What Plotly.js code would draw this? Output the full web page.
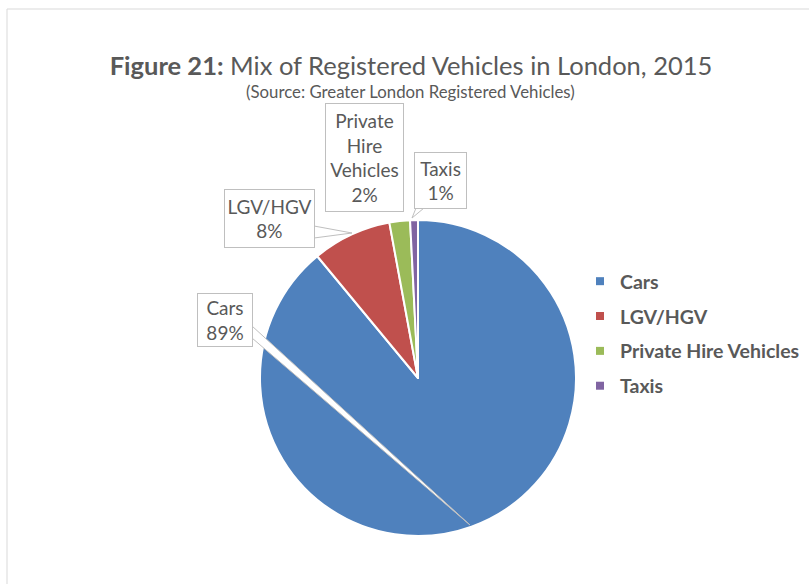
<!DOCTYPE html>
<html>
<head>
<meta charset="utf-8">
<script src="https://cdn.plot.ly/plotly-3.0.1.min.js"></script>
<style>html,body{margin:0;padding:0;background:#fff;}#chart{width:809px;height:584px;}</style>
</head>
<body>
<div id="chart"></div>
<script>
// Data
var categories = ["Cars", "LGV/HGV", "Private Hire Vehicles", "Taxis"];
var shares = [89.0, 8.1, 2.1, 0.8];
var calloutLabels = ["Cars", "LGV/HGV", "Private<br>Hire<br>Vehicles", "Taxis"];
var colors = ["#4F81BD", "#C0504D", "#9BBB59", "#8064A2"];

var W = 809, H = 584;
function px(x){ return x / W; }
function py(y){ return 1 - y / H; }

var total = shares.reduce(function(a,b){return a+b;},0);
var textColor = "#595959";
var fontFam = "Lato, 'Open Sans', sans-serif";

var cx = 418, cy = 378, r = 158;

var traces = [{
  type: "pie",
  labels: categories,
  values: shares,
  sort: false,
  direction: "clockwise",
  rotation: 0,
  textinfo: "none",
  hoverinfo: "label+percent",
  showlegend: false,
  marker: {colors: colors, line: {color: "#ffffff", width: 2}},
  domain: {x: [px(cx - r), px(cx + r)], y: [py(cy + r), py(cy - r)]}
}];

// legend entries, drawn by the library's legend
categories.forEach(function(c, i){
  traces.push({
    type: "scatter", mode: "markers", x: [null], y: [null],
    name: c, legendgroup: "g" + i,
    marker: {symbol: "square", size: 8, color: colors[i]},
    hoverinfo: "skip"
  });
});

// callout boxes
var boxes = [
  {x: 225, y: 320, w: 56, h: 54},
  {x: 269.5, y: 218.5, w: 91, h: 59},
  {x: 364.5, y: 157.5, w: 79, h: 109},
  {x: 440.5, y: 180.5, w: 53, h: 57}
];
var annotations = boxes.map(function(b, i){
  return {
    xref: "paper", yref: "paper", x: px(b.x), y: py(b.y),
    xanchor: "center", yanchor: "middle", showarrow: false,
    text: calloutLabels[i] + "<br>" + Math.round(shares[i] / total * 100) + "%",
    font: {family: fontFam, size: 19, color: textColor},
    bgcolor: "#ffffff", bordercolor: "#BFBFBF", borderwidth: 1, borderpad: 1,
    width: b.w - 4, height: b.h - 4, align: "center", valign: "middle"
  };
});
annotations.push({
  xref: "paper", yref: "paper", x: px(410), y: py(91),
  xanchor: "center", yanchor: "middle", showarrow: false,
  text: "(Source: Greater London Registered Vehicles)",
  font: {family: fontFam, size: 16.8, color: textColor}
});

function pathOf(pts){
  return pts.map(function(p, i){ return (i ? "L" : "M") + px(p[0]) + "," + py(p[1]); }).join(" ") + " Z";
}

var shapes = [
  // chart area border
  {type: "line", xref: "paper", yref: "paper", x0: px(7), x1: px(7), y0: py(9), y1: -0.05, line: {color: "#D9D9D9", width: 1}},
  {type: "line", xref: "paper", yref: "paper", x0: px(7), x1: 1.05, y0: py(9), y1: py(9), line: {color: "#D9D9D9", width: 1}},
  // callout pointers
  {type: "path", xref: "paper", yref: "paper", layer: "above", path: pathOf([[252, 326], [252, 338], [470, 525]]), fillcolor: "#ffffff", line: {color: "#BFBFBF", width: 1}},
  {type: "path", xref: "paper", yref: "paper", layer: "above", path: pathOf([[314, 226], [314, 238], [352, 233]]), fillcolor: "#ffffff", line: {color: "#BFBFBF", width: 1}},
  {type: "path", xref: "paper", yref: "paper", layer: "above", path: pathOf([[416, 208], [424, 208], [412, 218]]), fillcolor: "#ffffff", line: {color: "#BFBFBF", width: 1}}
];

var layout = {
  width: W, height: H,
  margin: {l: 0, r: 0, t: 0, b: 0},
  paper_bgcolor: "#ffffff", plot_bgcolor: "#ffffff",
  title: {
    text: "<b>Figure 21:</b> Mix of Registered Vehicles in London, 2015",
    font: {family: fontFam, size: 25.5, color: textColor},
    x: px(411), xanchor: "center", y: py(66), yanchor: "middle", xref: "paper", yref: "paper"
  },
  xaxis: {visible: false, domain: [0.98, 1]},
  yaxis: {visible: false, domain: [0.98, 1]},
  showlegend: true,
  legend: {
    x: px(580), xanchor: "left", y: py(262), yanchor: "top",
    font: {family: fontFam, size: 19.5, color: textColor, weight: "bold"},
    tracegroupgap: 6.5, bgcolor: "rgba(0,0,0,0)"
  },
  annotations: annotations,
  shapes: shapes
};

Plotly.newPlot("chart", traces, layout, {staticPlot: true, displayModeBar: false});
</script>
</body>
</html>
